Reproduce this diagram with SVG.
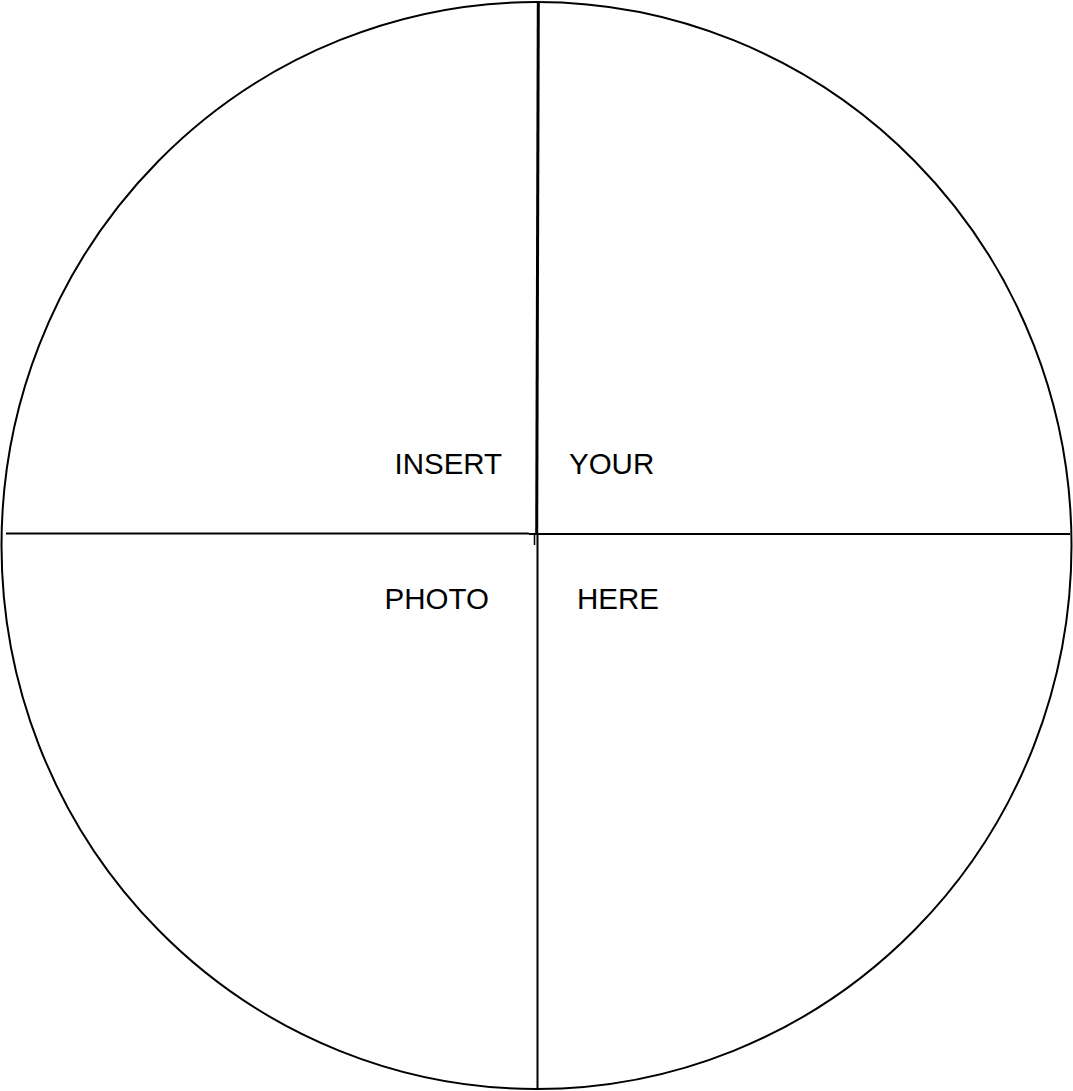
<svg xmlns="http://www.w3.org/2000/svg" width="1073" height="1091" viewBox="0 0 1073 1091">
<style>
.ln{stroke:#000;fill:none}
.t{font-family:"Liberation Sans",Arial,sans-serif;font-size:29.5px;fill:#000}
</style>
<rect width="1073" height="1091" fill="#fff"/>
<g id="circle"><ellipse class="ln" cx="536.5" cy="545.5" rx="535" ry="543.5" stroke-width="2"/></g>
<g id="connectors">
<line class="ln" x1="538.3" y1="2" x2="536.7" y2="534" stroke-width="3"/>
<line class="ln" x1="537.5" y1="535" x2="537.5" y2="1089" stroke-width="2"/>
<line class="ln" x1="6" y1="533.5" x2="529" y2="533.5" stroke-width="2"/>
<line class="ln" x1="529" y1="534" x2="1070" y2="534" stroke-width="2"/>
<line class="ln" x1="534.5" y1="533" x2="534.5" y2="545" stroke-width="1.5"/>
</g>
<g id="labels">
<text class="t" x="394.5" y="474">INSERT</text>
<text class="t" x="569" y="474">YOUR</text>
<text class="t" x="384.5" y="609">PHOTO</text>
<text class="t" x="577" y="609">HERE</text>
</g>
</svg>
